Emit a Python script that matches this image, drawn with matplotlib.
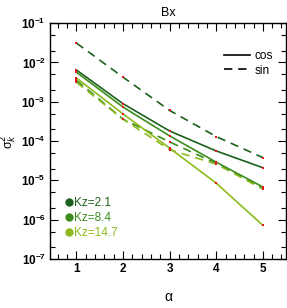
import matplotlib
matplotlib.use("Agg")
import matplotlib.pyplot as plt
from matplotlib.lines import Line2D
from matplotlib.ticker import LogLocator, MultipleLocator, NullFormatter
import numpy as np

# data
alpha = [1, 2, 3, 4, 5]
kz_labels = ["Kz=2.1", "Kz=8.4", "Kz=14.7"]
colors = ["#1b611b", "#3c8c1e", "#8cba1e"]
cos_vals = [
    [6.4e-3, 8.9e-4, 1.8e-4, 5.6e-5, 2.1e-5],
    [5.6e-3, 7.3e-4, 1.35e-4, 2.9e-5, 6.8e-6],
    [4.0e-3, 4.9e-4, 6.6e-5, 8.5e-6, 7.2e-7],
]
sin_vals = [
    [3.1e-2, 4.2e-3, 6.0e-4, 1.3e-4, 3.8e-5],
    [3.5e-3, 3.6e-4, 9.5e-5, 2.7e-5, 6.3e-6],
    [3.1e-3, 3.6e-4, 6.0e-5, 2.6e-5, 6.0e-6],
]

plt.rcParams['font.family'] = ['Liberation Sans', 'DejaVu Sans']

fig = plt.figure(figsize=(2.87, 3.08), dpi=100)
ax = fig.add_axes([0.174, 0.159, 0.823, 0.766])

for i in range(3):
    ax.plot(alpha, cos_vals[i], color=colors[i], lw=1.2, ls='-')
    ax.plot(alpha, sin_vals[i], color=colors[i], lw=1.2, ls=(0, (5, 3.5)))
for i in range(3):
    ax.plot(alpha, cos_vals[i], ls='none', marker='s', ms=2, color='#e8141e', mew=0)
    ax.plot(alpha, sin_vals[i], ls='none', marker='s', ms=2, color='#e8141e', mew=0)

ax.set_yscale('log')
ax.set_ylim(1e-7, 1e-1)
ax.set_xlim(0.43, 5.5)
ax.set_xticks(alpha)
ax.xaxis.set_minor_locator(MultipleLocator(0.2))
ax.yaxis.set_major_locator(LogLocator(base=10, numticks=20))
ax.yaxis.set_minor_locator(LogLocator(base=10, subs=(2, 5), numticks=20))
ax.yaxis.set_minor_formatter(NullFormatter())
ax.tick_params(which='both', direction='in', top=True, right=True, width=0.8)
ax.tick_params(which='major', length=6, labelsize=8.5, pad=3)
ax.tick_params(which='minor', length=3.5)
for lab in ax.get_xticklabels() + ax.get_yticklabels():
    lab.set_fontweight('bold')
for s in ax.spines.values():
    s.set_linewidth(1.0)

ax.set_title("Bx", fontsize=9, pad=5)
ax.set_xlabel("α", fontsize=10, labelpad=11)
ax.set_ylabel(r"σ$_k^2$", fontsize=9, labelpad=1)
ax.yaxis.set_label_coords(-0.13, 0.5)

# cos / sin legend
h1 = [Line2D([], [], color='k', lw=1.2, ls='-'),
      Line2D([], [], color='k', lw=1.2, ls=(0, (5, 3.5)))]
leg1 = ax.legend(h1, ["cos", "sin"], loc='upper right', frameon=False,
                 fontsize=8.5, handlelength=2.2, handletextpad=0.4,
                 labelspacing=0.2, bbox_to_anchor=(0.99, 0.93))
ax.add_artist(leg1)

# Kz legend
h2 = [Line2D([], [], ls='none', marker='o', ms=5, color=c) for c in colors]
ax.legend(h2, kz_labels, loc='lower left', frameon=False, fontsize=8.5,
          handlelength=0.6, handletextpad=0.15, labelspacing=0.25,
          labelcolor='linecolor', bbox_to_anchor=(0.02, 0.04))

fig.savefig("out.png", dpi=100)
